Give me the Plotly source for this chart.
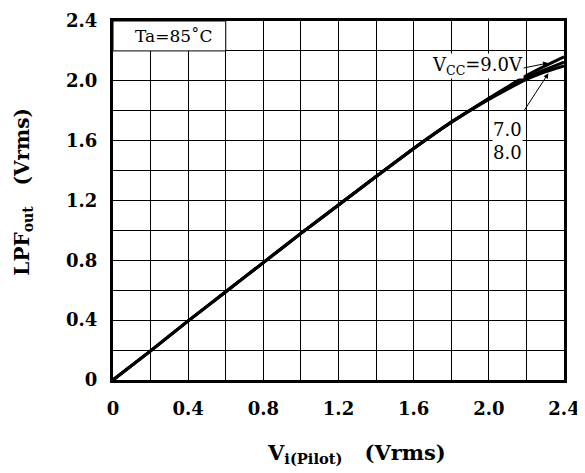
import plotly.graph_objects as go

# Data
vi = [0, 0.2, 0.4, 0.6, 0.8, 1.0, 1.2, 1.4, 1.6, 1.8, 2.0, 2.1, 2.2, 2.3, 2.4]
lpf_9v = [0, 0.195, 0.395, 0.59, 0.785, 0.98, 1.17, 1.36, 1.548, 1.724, 1.884, 1.96, 2.035, 2.10, 2.16]
lpf_8v = [0, 0.195, 0.395, 0.59, 0.785, 0.98, 1.17, 1.36, 1.548, 1.724, 1.88, 1.955, 2.02, 2.075, 2.125]
lpf_7v = [0, 0.195, 0.395, 0.59, 0.785, 0.98, 1.17, 1.36, 1.548, 1.722, 1.876, 1.945, 2.01, 2.06, 2.10]

major_vals = [0, 0.4, 0.8, 1.2, 1.6, 2.0, 2.4]
x_text = ["0", "0.4", "0.8", "1.2", "1.6", "2.0", "2.4"]
y_text = ["0", "0.4", "0.8", "1.2", "1.6", "2.0", "2.4"]

SERIF = "DejaVu Serif"

fig = go.Figure()
for ys in (lpf_7v, lpf_8v, lpf_9v):
    fig.add_trace(go.Scatter(x=vi, y=ys, mode="lines",
                             line=dict(color="black", width=3, shape="spline", smoothing=0.3),
                             showlegend=False, hoverinfo="skip"))

axis_common = dict(
    range=[0, 2.4], tickvals=major_vals, showgrid=True, gridcolor="black", gridwidth=1,
    minor=dict(dtick=0.2, tick0=0, showgrid=True, gridcolor="black", gridwidth=1, ticks=""),
    showline=True, linecolor="black", linewidth=3, mirror=True, zeroline=False,
    automargin=False,
    ticks="", tickfont=dict(family=SERIF, size=18, color="black", weight="bold"),
)
fig.update_xaxes(**axis_common, ticktext=x_text, ticklabelstandoff=10)
fig.update_yaxes(**axis_common, ticktext=y_text, ticklabelstandoff=9)

fig.add_shape(type="rect", xref="x", yref="y", x0=0, x1=0.6, y0=2.2, y1=2.4,
              fillcolor="white", line=dict(color="black", width=1), layer="above")

ann_font = dict(family=SERIF, size=18, color="black")
fig.add_annotation(x=0.325, y=2.3, xref="x", yref="y", text="Ta=85˚C", showarrow=False,
                   font=dict(family=SERIF, size=17, color="black"))
fig.add_annotation(x=2.315, y=2.119, ax=2.175, ay=2.083, xref="x", yref="y",
                   axref="x", ayref="y", text="", showarrow=True, arrowhead=2,
                   arrowsize=1, arrowwidth=1, arrowcolor="black")
fig.add_annotation(x=2.317, y=2.05, ax=2.184, ay=1.794, xref="x", yref="y",
                   axref="x", ayref="y", text="", showarrow=True, arrowhead=2,
                   arrowsize=1, arrowwidth=1, arrowcolor="black")
fig.add_annotation(x=1.94, y=2.1, xref="x", yref="y", text="V<sub>CC</sub>=9.0V",
                   showarrow=False, font=ann_font, bgcolor="white", borderpad=0)
fig.add_annotation(x=2.1, y=1.6, xref="x", yref="y", text="7.0<br>8.0",
                   showarrow=False, font=ann_font, bgcolor="white", borderpad=0)

title_font = dict(family=SERIF, size=21, color="black", weight="bold")
fig.add_annotation(x=0.54, y=-0.205, xref="paper", yref="paper",
                   text="V<sub>i(Pilot)</sub>\u00a0\u00a0\u00a0(Vrms)", showarrow=False,
                   font=title_font, xanchor="center", yanchor="middle")
fig.add_annotation(x=-0.2, y=0.524, xref="paper", yref="paper",
                   text="LPF<sub>out</sub>\u00a0\u00a0\u00a0(Vrms)", showarrow=False,
                   textangle=-90, font=dict(family=SERIF, size=20, color="black", weight="bold"),
                   xanchor="center", yanchor="middle")

# page body has an 8px margin, so the plot area is offset accordingly
fig.update_layout(width=577, height=465, margin=dict(l=105, r=21, t=13, b=93),
                  plot_bgcolor="white", paper_bgcolor="white")

fig.write_html("out.html")
